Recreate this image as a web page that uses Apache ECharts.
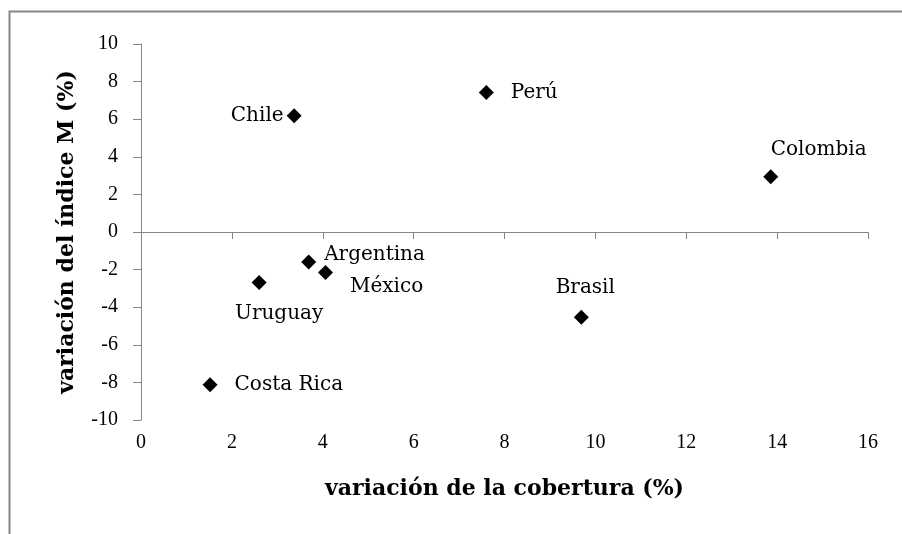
<!DOCTYPE html>
<html>
<head>
<meta charset="utf-8">
<script src="https://cdn.jsdelivr.net/npm/echarts@6/dist/echarts.min.js"></script>
<style>
html,body{margin:0;padding:0;background:#fff;}
#main{width:902px;height:534px;}
</style>
</head>
<body>
<div id="main"></div>
<script>
// valores
var paises = ['Chile', 'Perú', 'Colombia', 'Argentina', 'México', 'Uruguay', 'Brasil', 'Costa Rica'];
var cobertura = [3.37, 7.60, 13.86, 3.69, 4.06, 2.60, 9.69, 1.52];
var indiceM = [6.19, 7.42, 2.94, -1.59, -2.15, -2.69, -4.54, -8.13];
var xTicks = [0, 2, 4, 6, 8, 10, 12, 14, 16];
var yTicks = [-10, -8, -6, -4, -2, 0, 2, 4, 6, 8, 10];

// ubicacion de cada etiqueta
var etiquetas = {
	'Chile':      {position: 'left', distance: 3},
	'Perú':       {position: 'right', distance: 17},
	'Colombia':   {position: 'top', align: 'left', distance: 9},
	'Argentina':  {position: 'right', distance: 8, offset: [0, -7]},
	'México':     {position: 'right', distance: 17, offset: [0, 14]},
	'Uruguay':    {position: 'bottom', distance: 14, offset: [20, 0]},
	'Brasil':     {position: 'top', distance: 12, offset: [4, 0]},
	'Costa Rica': {position: 'right', distance: 17}
};

var gris = '#868686';
var fuenteTexto = '"DejaVu Serif", serif';

var puntos = [];
for (var i = 0; i < paises.length; i++) {
	var lb = etiquetas[paises[i]];
	puntos.push({
		name: paises[i],
		value: [cobertura[i], indiceM[i]],
		label: {
			show: true,
			formatter: paises[i],
			position: lb.position,
			distance: lb.distance,
			align: lb.align,
			offset: lb.offset || [0, 0],
			fontFamily: fuenteTexto,
			fontSize: 20,
			color: '#000'
		}
	});
}

var myChart = echarts.init(document.getElementById('main'));
var option = {
	animation: false,
	backgroundColor: '#fff',
	graphic: [{
		type: 'polyline',
		shape: {points: [[9.5, 534], [9.5, 11.5], [902, 11.5]]},
		style: {stroke: gris, lineWidth: 2, fill: null}
	}],
	grid: {left: 141, right: 34, top: 44, bottom: 114},
	xAxis: [{
		type: 'value',
		min: xTicks[0],
		max: xTicks[xTicks.length - 1],
		interval: 2,
		position: 'bottom',
		axisLine: {show: true, onZero: true, lineStyle: {color: gris, width: 1}},
		axisTick: {show: true, inside: false, length: 7, lineStyle: {color: gris}},
		axisLabel: {show: false},
		splitLine: {show: false}
	}, {
		type: 'value',
		min: xTicks[0],
		max: xTicks[xTicks.length - 1],
		interval: 2,
		position: 'bottom',
		name: 'variación de la cobertura (%)',
		nameLocation: 'middle',
		nameGap: 58,
		nameTextStyle: {fontFamily: fuenteTexto, fontWeight: 'bold', fontSize: 22, color: '#000'},
		axisLine: {show: false, onZero: false},
		axisTick: {show: false},
		axisLabel: {margin: 13, fontFamily: '"Liberation Serif", serif', fontSize: 20, color: '#000'},
		splitLine: {show: false}
	}],
	yAxis: {
		type: 'value',
		min: yTicks[0],
		max: yTicks[yTicks.length - 1],
		interval: 2,
		name: 'variación del índice M (%)',
		nameLocation: 'middle',
		nameGap: 63,
		nameTextStyle: {fontFamily: fuenteTexto, fontWeight: 'bold', fontSize: 22, color: '#000'},
		axisLine: {show: true, onZero: false, lineStyle: {color: gris, width: 1}},
		axisTick: {show: true, inside: false, length: 8, lineStyle: {color: gris}},
		axisLabel: {margin: 23, fontFamily: '"Liberation Serif", serif', fontSize: 20, color: '#000'},
		splitLine: {show: false}
	},
	series: [{
		type: 'scatter',
		xAxisIndex: 0,
		symbol: 'diamond',
		symbolSize: 15,
		itemStyle: {color: '#000', opacity: 1},
		data: puntos
	}]
};
myChart.setOption(option);
</script>
</body>
</html>
